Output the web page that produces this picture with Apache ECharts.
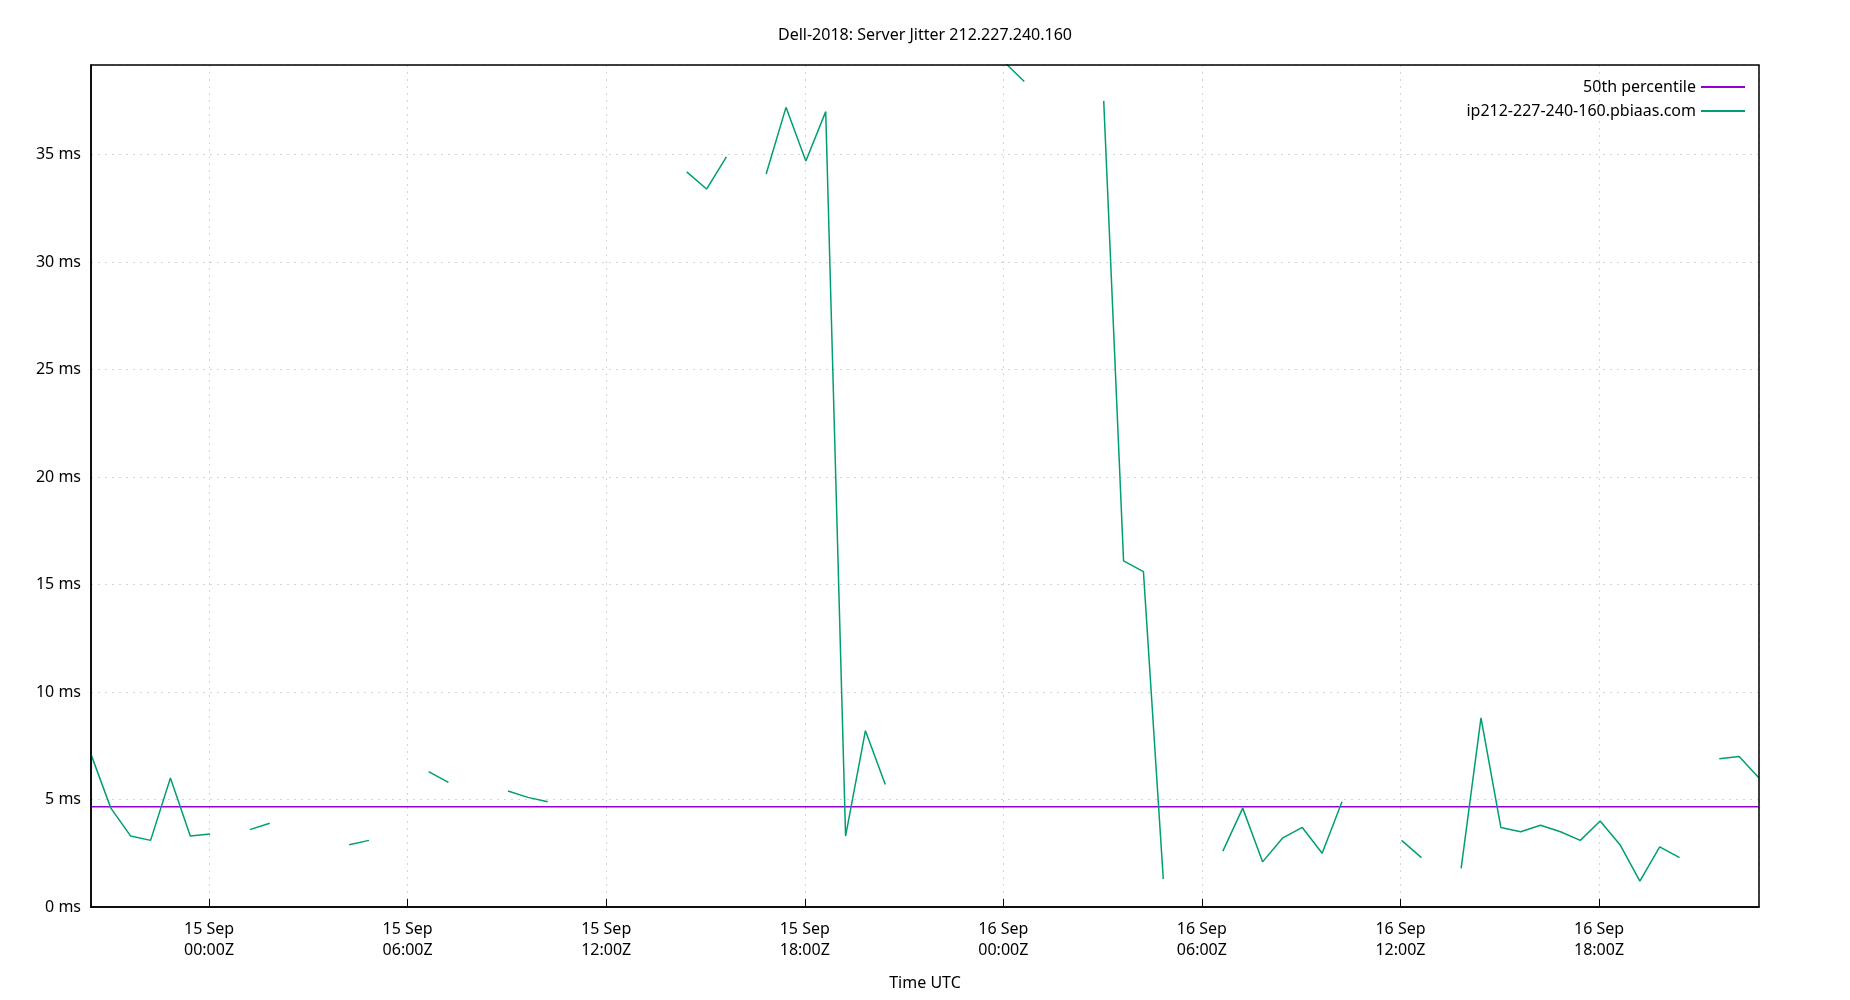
<!DOCTYPE html>
<html>
<head>
<meta charset="utf-8">
<script src="https://cdn.jsdelivr.net/npm/echarts@6/dist/echarts.min.js"></script>
<style>html,body{margin:0;padding:0;background:#fff}#chart{width:1850px;height:1000px}</style>
</head>
<body>
<div id="chart"></div>
<script>
'use strict';

// sampling: first sample and step (36 min)
var startTime = Date.UTC(2018, 8, 14, 20, 26);
var stepMin = 36;

// jitter in ms per sample, null = no data
var jitter = [
    7.1, 4.6, 3.3, 3.1, 6.0, 3.3, 3.4, null, 3.6, 3.9,
    null, null, null, 2.9, 3.1, null, null, 6.3, 5.8, null,
    null, 5.4, 5.1, 4.9, null, null, null, null, null, null,
    34.2, 33.4, 34.9, null, 34.1, 37.2, 34.7, 37.0, 3.3, 8.2,
    5.7, null, null, null, null, null, 39.3, 38.4, null, null,
    null, 37.5, 16.1, 15.6, 1.3, null, null, 2.6, 4.6, 2.1,
    3.2, 3.7, 2.5, 4.9, null, null, 3.1, 2.3, null, 1.8,
    8.8, 3.7, 3.5, 3.8, 3.5, 3.1, 4.0, 2.9, 1.2, 2.8,
    2.3, null, 6.9, 7.0, 6.0
];
var median = 4.66;

var points = jitter.map(function(v, i){
    return [startTime + i * stepMin * 60000, v];
});
var endTime = startTime + (jitter.length - 1) * stepMin * 60000;

var months = ['Jan','Feb','Mar','Apr','May','Jun','Jul','Aug','Sep','Oct','Nov','Dec'];
function pad(n){ return (n < 10 ? '0' : '') + n; }

var chart = echarts.init(document.getElementById('chart'));
chart.setOption({
    animation: false,
    textStyle: { fontFamily: 'Noto Sans' },
    title: {
        text: 'Dell-2018: Server Jitter 212.227.240.160',
        left: 'center', top: 22,
        textStyle: { fontSize: 16, fontWeight: 'normal', color: '#000' }
    },
    legend: {
        right: 100, top: 74, orient: 'vertical', align: 'right',
        itemWidth: 44, itemHeight: 2, itemGap: 8,
        icon: 'rect',
        textStyle: { fontSize: 16, color: '#000' },
        data: ['50th percentile', 'ip212-227-240-160.pbiaas.com']
    },
    grid: { left: 91, right: 91, top: 65, bottom: 93 },
    xAxis: {
        type: 'time',
        min: startTime, max: endTime,
        interval: 6 * 3600000,
        axisLine: { lineStyle: { color: '#000', width: 1.5 } },
        axisTick: { inside: true, length: 8, lineStyle: { color: '#000' } },
        splitLine: { show: true, lineStyle: { color: '#d4d4d4', type: [2, 5] } },
        axisLabel: {
            color: '#000', fontSize: 16, lineHeight: 21, margin: 12,
            formatter: function(v){
                var d = new Date(v);
                return d.getUTCDate() + ' ' + months[d.getUTCMonth()] + '\n' + pad(d.getUTCHours()) + ':' + pad(d.getUTCMinutes()) + 'Z';
            }
        },
        name: 'Time UTC', nameLocation: 'middle', nameGap: 68,
        nameTextStyle: { color: '#000', fontSize: 16 }
    },
    yAxis: {
        type: 'value', min: 0, max: 39.17, interval: 5,
        axisLine: { show: true, lineStyle: { color: '#000', width: 1.5 } },
        axisTick: { inside: true, length: 8, lineStyle: { color: '#000' } },
        splitLine: { show: true, lineStyle: { color: '#d4d4d4', type: [2, 5] } },
        axisLabel: {
            color: '#000', fontSize: 16, margin: 10, showMaxLabel: false,
            formatter: function(v){ return v + ' ms'; }
        }
    },
    series: [
        {
            name: '50th percentile', type: 'line', symbol: 'none',
            color: '#9400d3', lineStyle: { width: 1.5 },
            data: [[startTime, median], [endTime, median]]
        },
        {
            name: 'ip212-227-240-160.pbiaas.com', type: 'line', symbol: 'none',
            color: '#009e73', lineStyle: { width: 1.5 },
            connectNulls: false,
            data: points
        }
    ],
    // top and right border
    graphic: [{
        type: 'rect', z: 100, shape: { x: 91, y: 65, width: 1668, height: 842 },
        style: { fill: 'none', stroke: '#000', lineWidth: 1.5, lineDash: null }, silent: true
    }]
});
</script>
</body>
</html>
